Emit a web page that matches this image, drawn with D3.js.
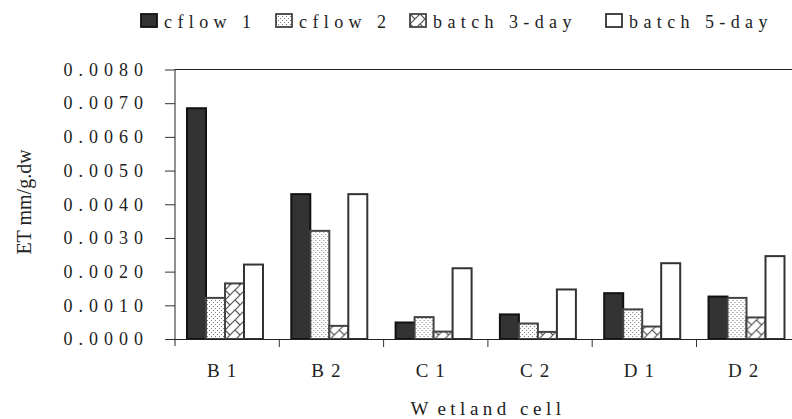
<!DOCTYPE html>
<html>
<head>
<meta charset="utf-8">
<script src="https://cdn.jsdelivr.net/npm/d3@7"></script>
<style>
  html, body { margin: 0; padding: 0; background: #fff; }
  svg { display: block; font-family: "Liberation Serif", "Times New Roman", serif; }
</style>
</head>
<body>
<svg id="chart" width="792" height="419"></svg>
<script>
// ---- data ----
const categories = ["B1", "B2", "C1", "C2", "D1", "D2"];
const seriesNames = ["cflow 1", "cflow 2", "batch 3-day", "batch 5-day"];
const cflow1    = [0.00685, 0.00430, 0.00049, 0.00073, 0.00136, 0.00126];
const cflow2    = [0.00122, 0.00321, 0.00065, 0.00046, 0.00088, 0.00122];
const batch3day = [0.00165, 0.00039, 0.00022, 0.00021, 0.00037, 0.00064];
const batch5day = [0.00221, 0.00430, 0.00210, 0.00147, 0.00225, 0.00246];
const yTicks = [0, 0.001, 0.002, 0.003, 0.004, 0.005, 0.006, 0.007, 0.008];
const yTitle = "ET mm/g.dw";
const xTitle = "Wetland cell";

const seriesValues = [cflow1, cflow2, batch3day, batch5day];

// ---- layout ----
const svg = d3.select("#chart");
const plotLeft = 175, plotTop = 69.5, plotBottom = 339, band = 104.3;

const x = d3.scaleBand().domain(categories).range([plotLeft, plotLeft + band * categories.length]).padding(0);
const x1 = d3.scaleBand().domain(seriesNames).range([12, 88]).padding(0);
const y = d3.scaleLinear().domain([0, 0.008]).range([plotBottom, plotTop]);

// ---- patterns ----
const defs = svg.append("defs");
const dots = defs.append("pattern").attr("id", "dots").attr("patternUnits", "userSpaceOnUse")
  .attr("width", 4).attr("height", 4);
dots.append("rect").attr("width", 4).attr("height", 4).attr("fill", "#fff");
dots.append("rect").attr("x", 0).attr("y", 0).attr("width", 1).attr("height", 1).attr("fill", "#777");
dots.append("rect").attr("x", 2).attr("y", 2).attr("width", 1).attr("height", 1).attr("fill", "#777");

const hatch = defs.append("pattern").attr("id", "hatch").attr("patternUnits", "userSpaceOnUse")
  .attr("width", 10).attr("height", 10);
hatch.append("rect").attr("width", 10).attr("height", 10).attr("fill", "#fff");
hatch.append("path").attr("d", "M0,10 L10,0 M-1,1 L1,-1 M9,11 L11,9 M0,0 L5,5")
  .attr("stroke", "#555").attr("stroke-width", 1.2).attr("fill", "none");

const fills = ["#333333", "url(#dots)", "url(#hatch)", "#ffffff"];
const strokes = ["#111111", "#444444", "#444444", "#333333"];

// ---- plot frame ----
svg.append("line").attr("x1", plotLeft).attr("x2", 792).attr("y1", plotTop).attr("y2", plotTop)
  .attr("stroke", "#222").attr("stroke-width", 1);

// ---- bars ----
const groups = svg.append("g").selectAll("g").data(categories).join("g")
  .attr("transform", d => `translate(${x(d)},0)`);
groups.selectAll("rect").data((c, i) => seriesNames.map((s, k) => ({ s, k, v: seriesValues[k][i] })))
  .join("rect")
  .attr("x", d => x1(d.s))
  .attr("width", x1.bandwidth())
  .attr("y", d => y(d.v))
  .attr("height", d => y(0) - y(d.v))
  .attr("fill", d => fills[d.k])
  .attr("stroke", d => strokes[d.k])
  .attr("stroke-width", 2);

// ---- y axis ----
const yAxis = d3.axisLeft(y).tickValues(yTicks).tickSize(10).tickPadding(16)
  .tickFormat(d3.format(".4f"));
const gy = svg.append("g").attr("transform", `translate(${plotLeft},0)`).call(yAxis);
gy.attr("font-family", "Liberation Serif");
gy.select(".domain").remove();
gy.selectAll(".tick line").attr("stroke", "#333");
gy.selectAll(".tick text").attr("font-size", 18).attr("letter-spacing", 6)
  .attr("fill", "#222");
svg.append("line").attr("x1", plotLeft).attr("x2", plotLeft).attr("y1", plotTop).attr("y2", plotBottom + 7)
  .attr("stroke", "#222");

// ---- x axis ----
const xAxis = d3.axisBottom(x).tickSize(0).tickPadding(25);
const gx = svg.append("g").attr("transform", `translate(0,${plotBottom})`).call(xAxis);
gx.attr("font-family", "Liberation Serif");
gx.select(".domain").attr("d", `M${plotLeft},0.5H792`).attr("stroke", "#222");
gx.selectAll(".tick text").attr("font-size", 19).attr("letter-spacing", 7)
  .attr("fill", "#222").attr("dx", -2);
// category separator ticks at band edges
svg.append("g").selectAll("line").data(categories)
  .join("line")
  .attr("x1", d => x(d) + x.bandwidth())
  .attr("x2", d => x(d) + x.bandwidth())
  .attr("y1", plotBottom).attr("y2", plotBottom + 8)
  .attr("stroke", "#333");

// ---- titles ----
svg.append("text").attr("transform", `translate(31,202) rotate(-90)`)
  .attr("text-anchor", "middle").attr("font-size", 20).attr("fill", "#222").text(yTitle);

const xt = svg.append("text").attr("x", 488).attr("y", 415).attr("text-anchor", "middle")
  .attr("font-size", 19).attr("letter-spacing", 4.5).attr("fill", "#222");
xt.append("tspan").text(xTitle.slice(0, 1));
xt.append("tspan").attr("dx", 6).text(xTitle.slice(1));

// ---- legend ----
const legendX = [141, 276, 410, 606];
const leg = svg.append("g").selectAll("g").data(seriesNames).join("g")
  .attr("transform", (d, i) => `translate(${legendX[i]},14)`);
leg.append("rect").attr("width", 16).attr("height", 13)
  .attr("fill", (d, i) => fills[i]).attr("stroke", (d, i) => strokes[i]).attr("stroke-width", 1.8);
leg.append("text").attr("x", 23).attr("y", 13.5).attr("font-size", 18).attr("letter-spacing", 5.4)
  .attr("fill", "#222").text(d => d);
</script>
</body>
</html>
